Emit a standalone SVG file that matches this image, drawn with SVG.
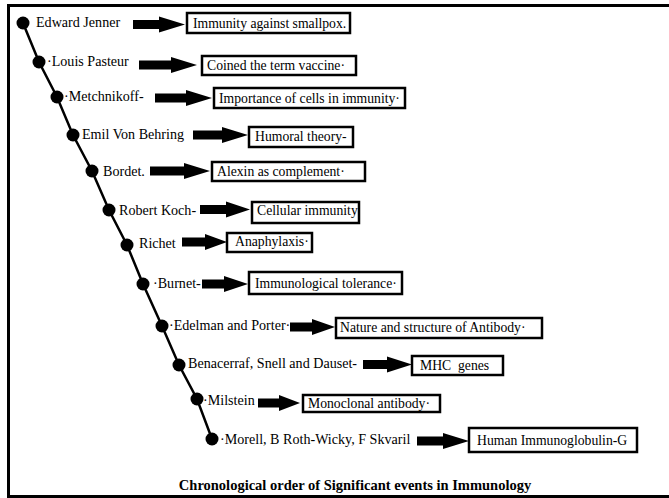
<svg xmlns="http://www.w3.org/2000/svg" width="669" height="498" viewBox="0 0 669 498">
<style>
text{font-family:'Liberation Serif','Times New Roman','DejaVu Serif',serif;font-size:13.7px;fill:#000;white-space:pre}
.lbl{font-size:14.1px}
.title{font-weight:bold;font-size:14.5px}
.dot{fill:#000}
.box{fill:#fff;stroke:#000;stroke-width:2.5}
.arr{fill:#000}
.tl{fill:none;stroke:#000;stroke-width:2.5}
</style>
<rect x="8.5" y="5.5" width="700" height="491" fill="#fff" stroke="#000" stroke-width="3"/>
<g id="connectors">
<polyline class="tl" points="23,23 39,62 57,97 73,135 92,171 109,210 127,245 143,284 162,326 179,365 197,399 212,439"/>
<polygon class="arr" points="133,20 159,20 159,16.5 185,24.5 159,32.5 159,29 133,29"/>
<polygon class="arr" points="139,60.5 171,60.5 171,57 197,65 171,73 171,69.5 139,69.5"/>
<polygon class="arr" points="155,93.5 186,93.5 186,90 212,98 186,106 186,102.5 155,102.5"/>
<polygon class="arr" points="193,130.5 222,130.5 222,127 248,135 222,143 222,139.5 193,139.5"/>
<polygon class="arr" points="150,166.5 184,166.5 184,163 210,171 184,179 184,175.5 150,175.5"/>
<polygon class="arr" points="200,205 226,205 226,201.5 250,209.5 226,217.5 226,214 200,214"/>
<polygon class="arr" points="182,237.5 205,237.5 205,234 227,242 205,250 205,246.5 182,246.5"/>
<polygon class="arr" points="202,279.5 224,279.5 224,276 248,284 224,292 224,288.5 202,288.5"/>
<polygon class="arr" points="290,322.5 312,322.5 312,319 335,327 312,335 312,331.5 290,331.5"/>
<polygon class="arr" points="363,360 387,360 387,356.5 412,364.5 387,372.5 387,369 363,369"/>
<polygon class="arr" points="258,398.5 279,398.5 279,395 300,403 279,411 279,407.5 258,407.5"/>
<polygon class="arr" points="417,436.5 443,436.5 443,433 469,441 443,449 443,445.5 417,445.5"/>
</g>
<g font-family="Liberation Serif, serif">
<g id="n1"><circle class="dot" cx="23" cy="23" r="6.5"/><text class="lbl" x="36" y="27">Edward Jenner</text></g>
<g id="n2"><circle class="dot" cx="39" cy="62" r="6.5"/><text class="lbl" x="47" y="66">·Louis Pasteur</text></g>
<g id="n3"><circle class="dot" cx="57" cy="97" r="6.5"/><text class="lbl" x="64" y="101">·Metchnikoff-</text></g>
<g id="n4"><circle class="dot" cx="73" cy="135" r="6.5"/><text class="lbl" x="82" y="139">Emil Von Behring</text></g>
<g id="n5"><circle class="dot" cx="92" cy="171" r="6.5"/><text class="lbl" x="103" y="176">Bordet.</text></g>
<g id="n6"><circle class="dot" cx="109" cy="210" r="6.5"/><text class="lbl" x="119" y="215">Robert Koch-</text></g>
<g id="n7"><circle class="dot" cx="127" cy="245" r="6.5"/><text class="lbl" x="139" y="248">Richet</text></g>
<g id="n8"><circle class="dot" cx="143" cy="284" r="6.5"/><text class="lbl" x="153" y="288">·Burnet-</text></g>
<g id="n9"><circle class="dot" cx="162" cy="326" r="6.5"/><text class="lbl" x="169" y="330">·Edelman and Porter·</text></g>
<g id="n10"><circle class="dot" cx="179" cy="365" r="6.5"/><text class="lbl" x="188" y="368">Benacerraf, Snell and Dauset-</text></g>
<g id="n11"><circle class="dot" cx="197" cy="399" r="6.5"/><text class="lbl" x="203" y="405">·Milstein</text></g>
<g id="n12"><circle class="dot" cx="212" cy="439" r="6.5"/><text class="lbl" x="220" y="444">·Morell, B Roth-Wicky, F Skvaril</text></g>
<g id="b1"><rect class="box" x="187" y="13" width="163" height="20"/><text x="193" y="28">Immunity against smallpox.</text></g>
<g id="b2"><rect class="box" x="202" y="56" width="154" height="19"/><text x="207" y="70">Coined the term vaccine·</text></g>
<g id="b3"><rect class="box" x="214" y="88" width="191" height="20"/><text x="219" y="103">Importance of cells in immunity·</text></g>
<g id="b4"><rect class="box" x="249" y="127" width="104" height="20"/><text x="255" y="141">Humoral theory-</text></g>
<g id="b5"><rect class="box" x="212" y="162" width="153" height="19"/><text x="217" y="176">Alexin as complement·</text></g>
<g id="b6"><rect class="box" x="252" y="202" width="107" height="21"/><text x="257" y="215">Cellular immunity</text></g>
<g id="b7"><rect class="box" x="227" y="233" width="85" height="19"/><text x="235" y="246">Anaphylaxis·</text></g>
<g id="b8"><rect class="box" x="249" y="272" width="153" height="22"/><text x="255" y="288">Immunological tolerance·</text></g>
<g id="b9"><rect class="box" x="336" y="318" width="206" height="20"/><text x="340" y="332">Nature and structure of Antibody·</text></g>
<g id="b10"><rect class="box" x="412" y="356" width="91" height="19"/><text x="420" y="370">MHC  genes</text></g>
<g id="b11"><rect class="box" x="303" y="395" width="137" height="17"/><text x="308" y="408">Monoclonal antibody·</text></g>
<g id="b12"><rect class="box" x="469" y="428" width="168" height="24"/><text x="477" y="445">Human Immunoglobulin-G</text></g>
<text class="title" x="355" y="490" text-anchor="middle">Chronological order of Significant events in Immunology</text>
</g>
</svg>
